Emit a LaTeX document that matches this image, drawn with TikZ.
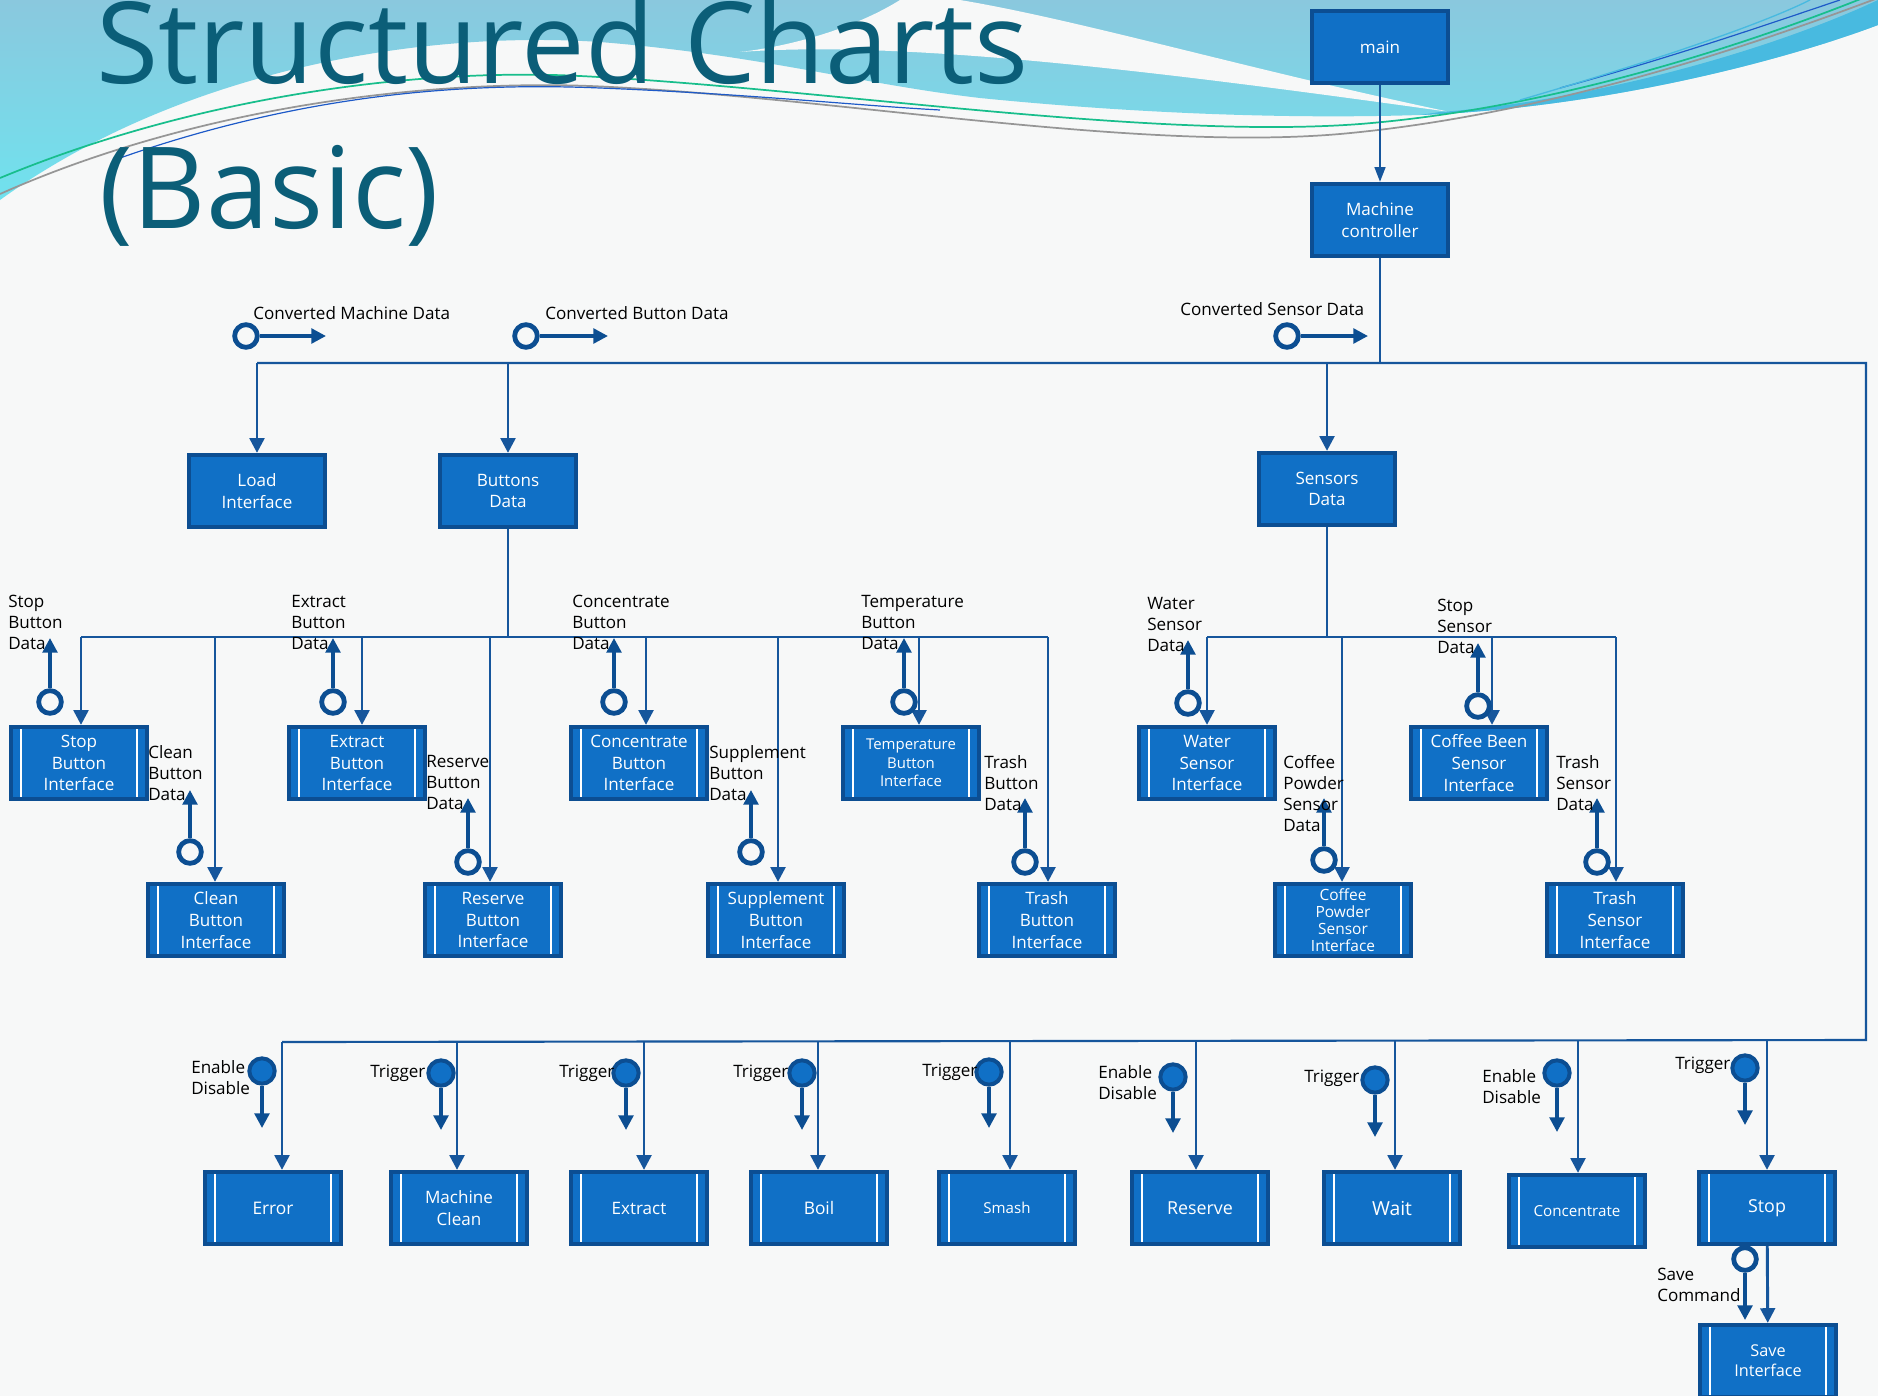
\documentclass[tikz,border=0pt]{standalone}
\usepackage{fontspec}
\setmainfont{Open Sans}
\usetikzlibrary{arrows.meta}

\definecolor{boxblue}{RGB}{16,112,198}
\definecolor{edgeblue}{RGB}{12,78,146}
\definecolor{lineblue}{RGB}{22,86,156}
\definecolor{titleteal}{RGB}{11,94,120}
\definecolor{paper}{RGB}{247,248,248}
\definecolor{wavecyan}{RGB}{112,226,238}
\definecolor{wavesteel}{RGB}{138,200,222}
\definecolor{waveband}{RGB}{72,186,224}
\definecolor{linegreen}{RGB}{24,190,140}
\definecolor{linegrey}{RGB}{150,150,150}
\definecolor{linedeep}{RGB}{30,90,200}

\begin{document}
\begin{tikzpicture}[x=0.75pt, y=-0.75pt,
  module/.style={draw=edgeblue, fill=boxblue, line width=3.2pt, text=white, align=center,
    minimum width=102pt, minimum height=54pt, inner sep=1pt,
    font=\fontsize{12.8}{16.2}\selectfont},
  submodule/.style={module, path picture={
    \draw[white, line width=1.4pt]
      ([xshift=7.5pt]path picture bounding box.north west) -- ([xshift=7.5pt]path picture bounding box.south west)
      ([xshift=-7.5pt]path picture bounding box.north east) -- ([xshift=-7.5pt]path picture bounding box.south east);}},
  bus/.style={draw=lineblue, line width=1.6pt},
  callarrow/.style={draw=lineblue, line width=2.2pt, -{Triangle[length=11pt,width=11pt]}},
  couple/.style={circle, draw=edgeblue, fill=paper, line width=3.6pt, minimum size=17pt, inner sep=0pt},
  flagcouple/.style={circle, draw=edgeblue, fill=boxblue, line width=3pt, minimum size=19pt, inner sep=0pt},
  couplearrow/.style={draw=edgeblue, line width=2.6pt, -{Triangle[length=11pt,width=11pt]}},
  datatag/.style={align=left, inner sep=0pt, font=\fontsize{12.8}{15.8}\selectfont},
]
\useasboundingbox (0,0) rectangle (1878,1396);

% background and waves
\fill[paper] (0,0) rectangle (1878,1396);
\shade[top color=wavesteel, bottom color=wavecyan] (0,0) -- (1878,0) -- (1878,25)
  .. controls (1780,62) and (1600,108) .. (1420,115)
  .. controls (1260,120) and (1100,110) .. (980,98)
  .. controls (860,84) and (760,55) .. (600,42)
  .. controls (420,30) and (180,70) .. (0,200) -- cycle;
\fill[paper] (740,52) .. controls (900,40) and (1150,70) .. (1450,112)
  .. controls (1250,70) and (1080,20) .. (960,0) -- (900,0)
  .. controls (860,25) and (800,45) .. (740,52) -- cycle;
\fill[waveband] (1420,115) .. controls (1600,108) and (1780,62) .. (1878,25) -- (1878,0)
  .. controls (1760,55) and (1580,102) .. (1440,112) -- cycle;
\draw[linegreen, line width=1.3pt] (0,178) .. controls (200,95) and (420,68) .. (580,76)
  .. controls (820,88) and (1150,140) .. (1360,124) .. controls (1560,108) and (1760,40) .. (1878,-8);
\draw[linegrey, line width=1.3pt] (0,194) .. controls (200,105) and (430,80) .. (590,86)
  .. controls (830,96) and (1130,152) .. (1340,134) .. controls (1540,116) and (1740,50) .. (1878,-2);
\draw[linedeep, line width=0.9pt] (120,158) .. controls (300,95) and (460,82) .. (600,88)
  .. controls (750,94) and (850,105) .. (940,110);
\draw[linedeep, line width=0.9pt] (1560,88) .. controls (1680,55) and (1780,20) .. (1840,0);
\draw[waveband, line width=1pt] (1520,100) .. controls (1650,62) and (1760,25) .. (1810,0);

% title
\node[anchor=base west, inner sep=0pt, text=titleteal, font=\fontsize{85}{100}\selectfont] (title) at (96,83) {Structured Charts};
\node[anchor=base west, inner sep=0pt, text=titleteal, font=\fontsize{85}{100}\selectfont] (subtitle) at (99,228) {(Basic)};

% top modules
\node[module] (main) at (1380,47) {main};
\node[module] (ctrl) at (1380,220) {Machine\\controller};
\node[module] (load) at (257,491) {Load\\Interface};
\node[module] (btns) at (508,491) {Buttons\\Data};
\node[module] (sens) at (1327,489) {Sensors\\Data};

% main bus
\coordinate (top0) at (257,363);
\coordinate (top1) at (508,363);
\coordinate (top2) at (1327,363);
\coordinate (top3) at (1380,363);
\coordinate (top4) at (1866,363);
\coordinate (low0) at (1866,1040);
\coordinate (low1) at (282,1042);
\draw[bus, -{Triangle[length=11pt,width=8pt]}] (main) -- (ctrl);
\draw[bus] (ctrl) -- (top3);
\draw[bus] (top0) -- (top4) -- (low0) -- (low1);
\draw[callarrow] (top0) -- (load);
\draw[callarrow] (top1) -- (btns);
\draw[callarrow] (top2) -- (sens);

% converted data couples
\node[couple] (convmd) at (246,336) {};
\coordinate (convmdtip) at (326,336);
\draw[couplearrow] (convmd) -- (convmdtip);
\node[datatag, anchor=west] (convmdlbl) at (253,313) {Converted Machine Data};
\node[couple] (convbd) at (526,336) {};
\coordinate (convbdtip) at (608,336);
\draw[couplearrow] (convbd) -- (convbdtip);
\node[datatag, anchor=west] (convbdlbl) at (545,313) {Converted Button Data};
\node[couple] (convsd) at (1287,336) {};
\coordinate (convsdtip) at (1368,336);
\draw[couplearrow] (convsd) -- (convsdtip);
\node[datatag, anchor=west] (convsdlbl) at (1180,309) {Converted Sensor Data};

% button interfaces
\node[submodule] (stopbi) at (79,763) {Stop\\Button\\Interface};
\node[submodule] (extractbi) at (357,763) {Extract\\Button\\Interface};
\node[submodule] (concbi) at (639,763) {Concentrate\\Button\\Interface};
\node[submodule, font=\fontsize{11.2}{13.8}\selectfont] (tempbi) at (911,763) {Temperature\\Button\\Interface};
\node[submodule] (cleanbi) at (216,920) {Clean\\Button\\Interface};
\node[submodule] (reservebi) at (493,920) {Reserve\\Button\\Interface};
\node[submodule] (supplbi) at (776,920) {Supplement\\Button\\Interface};
\node[submodule] (trashbi) at (1047,920) {Trash\\Button\\Interface};

\coordinate (bb1) at (81,637);
\coordinate (bb2) at (215,637);
\coordinate (bb3) at (362,637);
\coordinate (bb4) at (490,637);
\coordinate (bb5) at (646,637);
\coordinate (bb6) at (778,637);
\coordinate (bb7) at (919,637);
\coordinate (bb8) at (1048,637);
\draw[bus] (btns) -- (btns.south |- bb1);
\draw[bus] (bb1) -- (bb8);
\draw[callarrow] (bb1) -- (stopbi.north -| bb1);
\draw[callarrow] (bb2) -- (cleanbi.north -| bb2);
\draw[callarrow] (bb3) -- (extractbi.north -| bb3);
\draw[callarrow] (bb4) -- (reservebi.north -| bb4);
\draw[callarrow] (bb5) -- (concbi.north -| bb5);
\draw[callarrow] (bb6) -- (supplbi.north -| bb6);
\draw[callarrow] (bb7) -- (tempbi.north -| bb7);
\draw[callarrow] (bb8) -- (trashbi.north -| bb8);

% button data couples
\node[couple] (stopbd) at (50,702) {};
\coordinate (stopbdtip) at (50,638);
\draw[couplearrow] (stopbd) -- (stopbdtip);
\node[datatag, anchor=north west] (stopbdlbl) at (8,595) {Stop\\Button\\Data};
\node[couple] (extractbd) at (333,702) {};
\coordinate (extractbdtip) at (333,638);
\draw[couplearrow] (extractbd) -- (extractbdtip);
\node[datatag, anchor=north west] (extractbdlbl) at (291,595) {Extract\\Button\\Data};
\node[couple] (concbd) at (614,702) {};
\coordinate (concbdtip) at (614,638);
\draw[couplearrow] (concbd) -- (concbdtip);
\node[datatag, anchor=north west] (concbdlbl) at (572,595) {Concentrate\\Button\\Data};
\node[couple] (tempbd) at (904,702) {};
\coordinate (tempbdtip) at (904,638);
\draw[couplearrow] (tempbd) -- (tempbdtip);
\node[datatag, anchor=north west] (tempbdlbl) at (861,595) {Temperature\\Button\\Data};
\node[couple] (cleanbd) at (190,852) {};
\coordinate (cleanbdtip) at (190,790);
\draw[couplearrow] (cleanbd) -- (cleanbdtip);
\node[datatag, anchor=north west] (cleanbdlbl) at (148,745) {Clean\\Button\\Data};
\node[couple] (reservebd) at (468,862) {};
\coordinate (reservebdtip) at (468,798);
\draw[couplearrow] (reservebd) -- (reservebdtip);
\node[datatag, anchor=north west] (reservebdlbl) at (426,755) {Reserve\\Button\\Data};
\node[couple] (supplbd) at (751,852) {};
\coordinate (supplbdtip) at (751,790);
\draw[couplearrow] (supplbd) -- (supplbdtip);
\node[datatag, anchor=north west] (supplbdlbl) at (709,745) {Supplement\\Button\\Data};
\node[couple] (trashbd) at (1025,862) {};
\coordinate (trashbdtip) at (1025,798);
\draw[couplearrow] (trashbd) -- (trashbdtip);
\node[datatag, anchor=north west] (trashbdlbl) at (984,755) {Trash\\Button\\Data};

% sensor interfaces
\node[submodule] (watersi) at (1207,763) {Water\\Sensor\\Interface};
\node[submodule] (beansi) at (1479,763) {Coffee Been\\Sensor\\Interface};
\node[submodule, font=\fontsize{11.6}{12.8}\selectfont] (powdersi) at (1343,920) {Coffee\\Powder\\Sensor\\Interface};
\node[submodule] (trashsi) at (1615,920) {Trash\\Sensor\\Interface};

\coordinate (sb1) at (1207,637);
\coordinate (sb2) at (1342,637);
\coordinate (sb3) at (1492,637);
\coordinate (sb4) at (1616,637);
\draw[bus] (sens) -- (sens.south |- sb1);
\draw[bus] (sb1) -- (sb4);
\draw[callarrow] (sb1) -- (watersi.north -| sb1);
\draw[callarrow] (sb2) -- (powdersi.north -| sb2);
\draw[callarrow] (sb3) -- (beansi.north -| sb3);
\draw[callarrow] (sb4) -- (trashsi.north -| sb4);

% sensor data couples
\node[couple] (watersd) at (1188,703) {};
\coordinate (watersdtip) at (1188,640);
\draw[couplearrow] (watersd) -- (watersdtip);
\node[datatag, anchor=north west] (watersdlbl) at (1147,597) {Water\\Sensor\\Data};
\node[couple] (stopsd) at (1478,706) {};
\coordinate (stopsdtip) at (1478,643);
\draw[couplearrow] (stopsd) -- (stopsdtip);
\node[datatag, anchor=north west] (stopsdlbl) at (1437,599) {Stop\\Sensor\\Data};
\node[couple] (powdersd) at (1324,860) {};
\coordinate (powdersdtip) at (1324,798);
\draw[couplearrow] (powdersd) -- (powdersdtip);
\node[datatag, anchor=north west] (powdersdlbl) at (1283,755) {Coffee\\Powder\\Sensor\\Data};
\node[couple] (trashsd) at (1597,862) {};
\coordinate (trashsdtip) at (1597,798);
\draw[couplearrow] (trashsd) -- (trashsdtip);
\node[datatag, anchor=north west] (trashsdlbl) at (1556,755) {Trash\\Sensor\\Data};

% machine actions
\node[submodule, font=\fontsize{13}{16}\selectfont] (error) at (273,1208) {Error};
\node[submodule] (mclean) at (459,1208) {Machine\\Clean};
\node[submodule] (extract) at (639,1208) {Extract};
\node[submodule, font=\fontsize{13}{16}\selectfont] (boil) at (819,1208) {Boil};
\node[submodule, font=\fontsize{11.3}{14}\selectfont] (smash) at (1007,1208) {Smash};
\node[submodule, font=\fontsize{13.4}{16}\selectfont] (reserve) at (1200,1208) {Reserve};
\node[submodule, font=\fontsize{14.5}{16}\selectfont] (wait) at (1392,1208) {Wait};
\node[submodule, font=\fontsize{11.4}{14}\selectfont] (conc) at (1577,1211) {Concentrate};
\node[submodule, font=\fontsize{13.4}{16}\selectfont] (stop) at (1767,1208) {Stop};
\node[submodule, font=\fontsize{12.2}{15}\selectfont] (save) at (1768,1361) {Save\\Interface};

\coordinate (ob1) at (282,1042);
\coordinate (ob2) at (457,1042);
\coordinate (ob3) at (644,1042);
\coordinate (ob4) at (818,1041);
\coordinate (ob5) at (1010,1041);
\coordinate (ob6) at (1196,1041);
\coordinate (ob7) at (1395,1041);
\coordinate (ob8) at (1578,1040);
\coordinate (ob9) at (1767,1040);
\draw[callarrow] (ob1) -- (error.north -| ob1);
\draw[callarrow] (ob2) -- (mclean.north -| ob2);
\draw[callarrow] (ob3) -- (extract.north -| ob3);
\draw[callarrow] (ob4) -- (boil.north -| ob4);
\draw[callarrow] (ob5) -- (smash.north -| ob5);
\draw[callarrow] (ob6) -- (reserve.north -| ob6);
\draw[callarrow] (ob7) -- (wait.north -| ob7);
\draw[callarrow] (ob8) -- (conc.north -| ob8);
\draw[callarrow] (ob9) -- (stop.north -| ob9);
\draw[callarrow] (stop) -- (save);

% control flags
\node[flagcouple] (errflag) at (262,1071) {};
\coordinate (errflagtip) at (262,1128);
\draw[couplearrow] (errflag) -- (errflagtip);
\node[datatag, anchor=north west] (errflaglbl) at (191,1060) {Enable\\Disable};
\node[flagcouple] (mcleanflag) at (441,1073) {};
\coordinate (mcleanflagtip) at (441,1130);
\draw[couplearrow] (mcleanflag) -- (mcleanflagtip);
\node[datatag, anchor=west] (mcleanflaglbl) at (370,1073) {Trigger};
\node[flagcouple] (extractflag) at (626,1073) {};
\coordinate (extractflagtip) at (626,1130);
\draw[couplearrow] (extractflag) -- (extractflagtip);
\node[datatag, anchor=west] (extractflaglbl) at (559,1073) {Trigger};
\node[flagcouple] (boilflag) at (802,1073) {};
\coordinate (boilflagtip) at (802,1130);
\draw[couplearrow] (boilflag) -- (boilflagtip);
\node[datatag, anchor=west] (boilflaglbl) at (733,1073) {Trigger};
\node[flagcouple] (smashflag) at (989,1072) {};
\coordinate (smashflagtip) at (989,1128);
\draw[couplearrow] (smashflag) -- (smashflagtip);
\node[datatag, anchor=west] (smashflaglbl) at (922,1072) {Trigger};
\node[flagcouple] (reserveflag) at (1173,1077) {};
\coordinate (reserveflagtip) at (1173,1133);
\draw[couplearrow] (reserveflag) -- (reserveflagtip);
\node[datatag, anchor=north west] (reserveflaglbl) at (1098,1065) {Enable\\Disable};
\node[flagcouple] (waitflag) at (1375,1080) {};
\coordinate (waitflagtip) at (1375,1137);
\draw[couplearrow] (waitflag) -- (waitflagtip);
\node[datatag, anchor=west] (waitflaglbl) at (1304,1078) {Trigger};
\node[flagcouple] (concflag) at (1557,1073) {};
\coordinate (concflagtip) at (1557,1132);
\draw[couplearrow] (concflag) -- (concflagtip);
\node[datatag, anchor=north west] (concflaglbl) at (1482,1069) {Enable\\Disable};
\node[flagcouple] (stopflag) at (1745,1068) {};
\coordinate (stopflagtip) at (1745,1125);
\draw[couplearrow] (stopflag) -- (stopflagtip);
\node[datatag, anchor=west] (stopflaglbl) at (1675,1065) {Trigger};

% save command
\node[couple] (savecmd) at (1745,1259) {};
\coordinate (savecmdtip) at (1745,1320);
\draw[couplearrow] (savecmd) -- (savecmdtip);
\node[datatag, anchor=north west] (savecmdlbl) at (1657,1268) {Save\\Command};
\end{tikzpicture}
\end{document}
